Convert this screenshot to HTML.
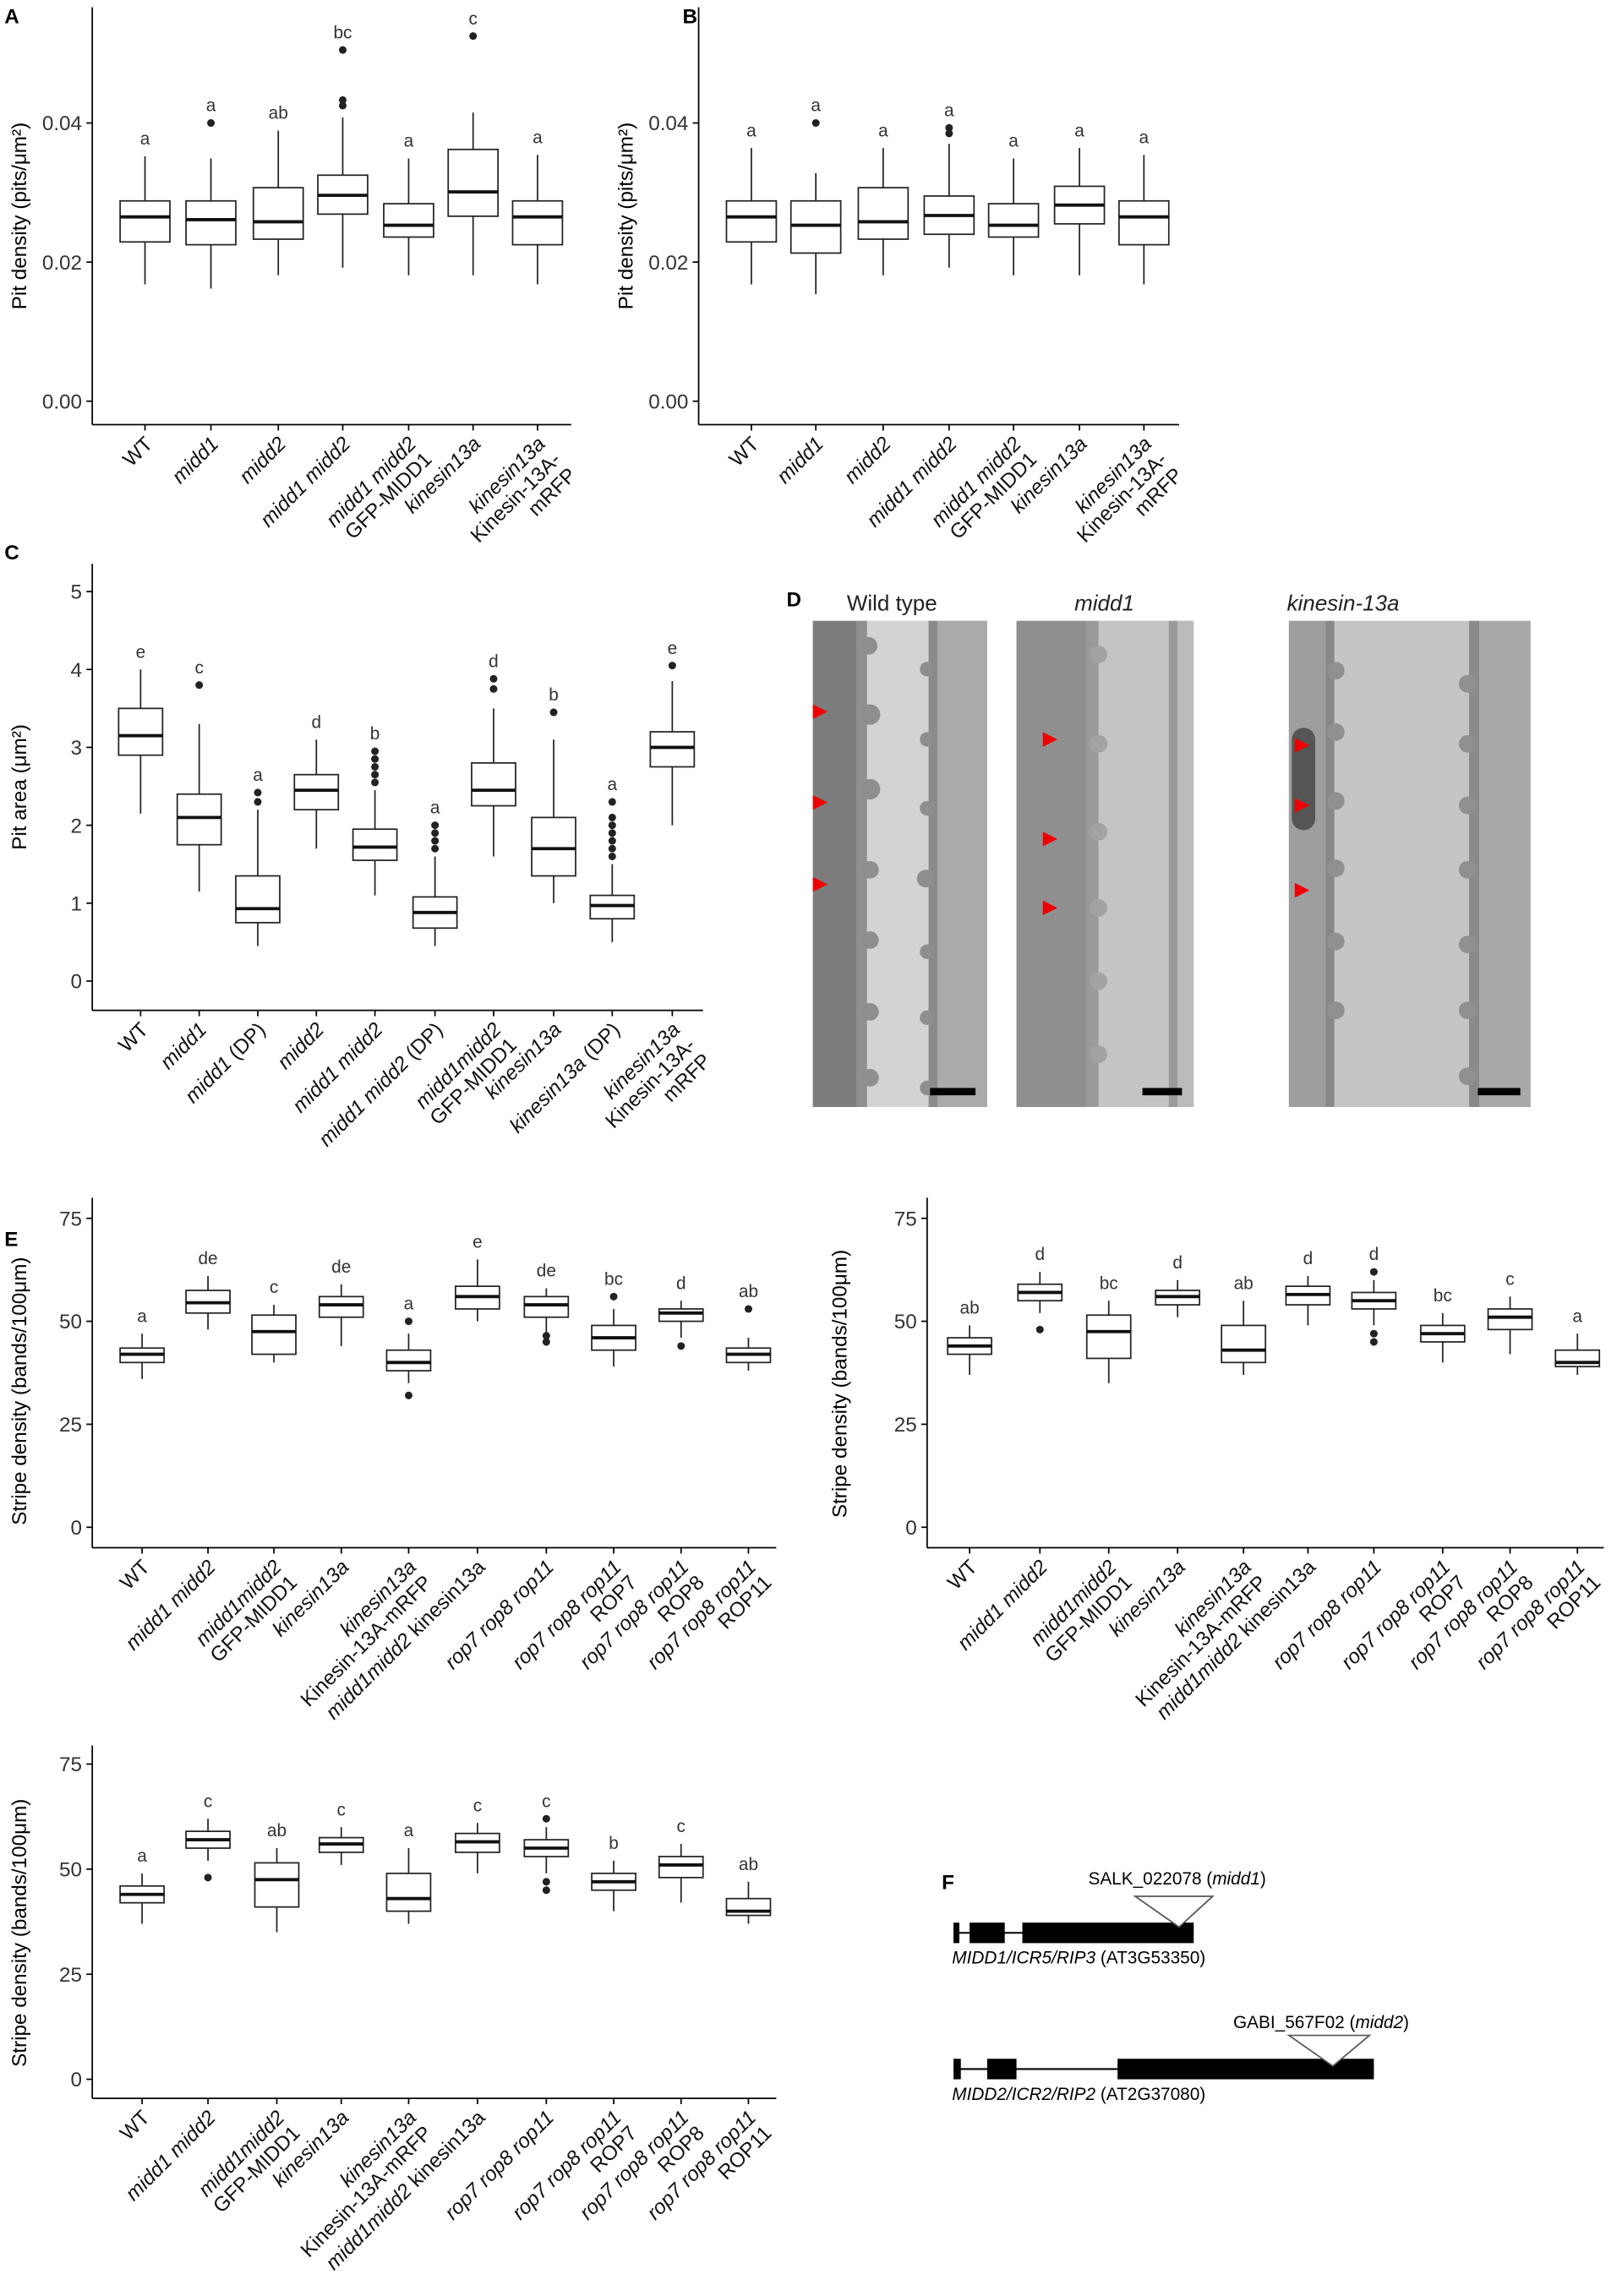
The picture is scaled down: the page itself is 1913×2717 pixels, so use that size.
<!DOCTYPE html>
<html><head><meta charset="utf-8"><style>
html,body{margin:0;padding:0;background:#fff;}
svg{display:block;font-family:"Liberation Sans",sans-serif;}
</style></head><body>
<svg id="s" width="1913" height="2717" viewBox="0 0 1104 1568" xmlns="http://www.w3.org/2000/svg">
<rect width="1104" height="1568" fill="#fff"/>
<g font-weight="bold" font-size="14">
<text x="3" y="16">A</text><text x="466" y="16">B</text><text x="3" y="382">C</text>
<text x="537" y="414">D</text><text x="3" y="851">E</text><text x="643" y="1290">F</text>
</g>
<!-- Panel D -->
<g font-size="15" fill="#222">
<text x="609" y="417" text-anchor="middle">Wild type</text>
<text x="754" y="417" text-anchor="middle" font-style="italic">midd1</text>
<text x="917" y="417" text-anchor="middle" font-style="italic">kinesin-13a</text>
</g>
<g>
<rect x="555" y="424" width="119" height="332" fill="#c9c9c9"/>
<rect x="555" y="424" width="30" height="332" fill="#7c7c7c"/>
<rect x="585" y="424" width="7" height="332" fill="#8f8f8f"/>
<rect x="592" y="424" width="42" height="332" fill="#d3d3d3"/>
<rect x="634" y="424" width="6" height="332" fill="#8a8a8a"/>
<rect x="640" y="424" width="34" height="332" fill="#aaaaaa"/>
<g fill="#8e8e8e"><circle cx="593" cy="441" r="6"/><circle cx="594" cy="488" r="7"/><circle cx="594" cy="539" r="7"/><circle cx="594" cy="594" r="6"/><circle cx="594" cy="642" r="6"/><circle cx="594" cy="691" r="6"/><circle cx="594" cy="736" r="6"/>
<circle cx="633" cy="457" r="5"/><circle cx="633" cy="505" r="5"/><circle cx="633" cy="552" r="5"/><circle cx="632" cy="600" r="6"/><circle cx="633" cy="650" r="5"/><circle cx="633" cy="695" r="5"/><circle cx="633" cy="743" r="5"/></g>
<rect x="635" y="743" width="31" height="5" fill="#000"/>
<g fill="#e00"><polygon points="555,481 565,486 555,491"/><polygon points="555,543 565,548 555,553"/><polygon points="555,599 565,604 555,609"/></g>

<rect x="694" y="424" width="121" height="332" fill="#bdbdbd"/>
<rect x="694" y="424" width="48" height="332" fill="#8f8f8f"/>
<rect x="742" y="424" width="8" height="332" fill="#9a9a9a"/>
<rect x="750" y="424" width="50" height="332" fill="#c4c4c4"/>
<rect x="798" y="424" width="6" height="332" fill="#9a9a9a"/>
<rect x="804" y="424" width="11" height="332" fill="#bbbbbb"/>
<g fill="#a3a3a3"><circle cx="750" cy="447" r="6"/><circle cx="750" cy="508" r="6"/><circle cx="750" cy="568" r="6"/><circle cx="750" cy="620" r="6"/><circle cx="750" cy="670" r="6"/><circle cx="750" cy="720" r="6"/></g>
<rect x="780" y="743" width="27" height="5" fill="#000"/>
<g fill="#e00"><polygon points="712,500 722,505 712,510"/><polygon points="712,568 722,573 712,578"/><polygon points="712,615 722,620 712,625"/></g>

<rect x="880" y="424" width="165" height="332" fill="#c5c5c5"/>
<rect x="880" y="424" width="25" height="332" fill="#9e9e9e"/>
<rect x="882" y="497" width="16" height="70" rx="8" fill="#555"/>
<rect x="905" y="424" width="6" height="332" fill="#888"/>
<rect x="1003" y="424" width="7" height="332" fill="#8a8a8a"/>
<rect x="1010" y="424" width="35" height="332" fill="#a8a8a8"/>
<g fill="#909090"><circle cx="912" cy="458" r="6"/><circle cx="912" cy="500" r="6"/><circle cx="912" cy="547" r="6"/><circle cx="912" cy="593" r="6"/><circle cx="912" cy="643" r="6"/><circle cx="912" cy="690" r="6"/>
<circle cx="1002" cy="467" r="6"/><circle cx="1002" cy="508" r="6"/><circle cx="1002" cy="550" r="6"/><circle cx="1002" cy="594" r="6"/><circle cx="1002" cy="645" r="6"/><circle cx="1002" cy="690" r="6"/><circle cx="1002" cy="735" r="6"/></g>
<rect x="1009" y="743" width="29" height="5" fill="#000"/>
<g fill="#e00"><polygon points="884,504 894,509 884,514"/><polygon points="884,545 894,550 884,555"/><polygon points="884,603 894,608 884,613"/></g>
</g>
<!-- Panel F -->
<g>
<text x="743" y="1287" font-size="12">SALK_022078 (<tspan font-style="italic">midd1</tspan>)</text>
<line x1="652" y1="1320" x2="815" y2="1320" stroke="#000" stroke-width="1.2"/>
<rect x="651" y="1313" width="4" height="14"/><rect x="662" y="1313" width="24" height="14"/><rect x="698" y="1313" width="117" height="14"/>
<polygon points="775,1295 828,1295 805,1316" fill="#fff" stroke="#555" stroke-width="1"/>
<text x="650" y="1341" font-size="12" font-style="italic">MIDD1/ICR5/RIP3 <tspan font-style="normal">(AT3G53350)</tspan></text>
<text x="842" y="1385" font-size="12">GABI_567F02 (<tspan font-style="italic">midd2</tspan>)</text>
<line x1="652" y1="1413" x2="938" y2="1413" stroke="#000" stroke-width="1.2"/>
<rect x="651" y="1406" width="5" height="14"/><rect x="674" y="1406" width="20" height="14"/><rect x="763" y="1406" width="175" height="14"/>
<polygon points="880,1390 935,1390 910,1411" fill="#fff" stroke="#555" stroke-width="1"/>
<text x="650" y="1434" font-size="12" font-style="italic">MIDD2/ICR2/RIP2 <tspan font-style="normal">(AT2G37080)</tspan></text>
</g>
<g id="charts"></g>
</svg>
<script>
var g=document.getElementById('charts'),h='';
function it(t){return '<tspan font-style="italic">'+t+'</tspan>';}
function chart(o){
  var Y=function(v){return o.y0-(v-o.v0)*o.k;};
  h+='<line x1="'+o.ax+'" y1="'+o.top+'" x2="'+o.ax+'" y2="'+o.bot+'" stroke="#000" stroke-width="1"/>';
  h+='<line x1="'+o.ax+'" y1="'+o.bot+'" x2="'+o.right+'" y2="'+o.bot+'" stroke="#000" stroke-width="1"/>';
  o.ticks.forEach(function(t){var y=Y(t[0]);h+='<line x1="'+(o.ax-4)+'" y1="'+y+'" x2="'+o.ax+'" y2="'+y+'" stroke="#000"/><text x="'+(o.ax-7)+'" y="'+(y+5)+'" font-size="14" text-anchor="end" fill="#333">'+t[1]+'</text>';});
  var cy=(o.tc!==undefined)?o.tc:(o.top+o.bot)/2;
  h+='<text transform="translate('+o.tx+','+cy+') rotate(-90)" font-size="14" text-anchor="middle">'+o.title+'</text>';
  o.boxes.forEach(function(b,i){
    var x=o.xs[i],w=o.bw/2;
    h+='<line x1="'+x+'" y1="'+Y(b[0])+'" x2="'+x+'" y2="'+Y(b[4])+'" stroke="#222"/>';
    h+='<rect x="'+(x-w)+'" y="'+Y(b[3])+'" width="'+o.bw+'" height="'+(Y(b[1])-Y(b[3]))+'" fill="#fff" stroke="#222"/>';
    h+='<line x1="'+(x-w)+'" y1="'+Y(b[2])+'" x2="'+(x+w)+'" y2="'+Y(b[2])+'" stroke="#111" stroke-width="2.2"/>';
    var mx=b[4];(b[5]||[]).forEach(function(v){if(v>mx)mx=v;h+='<circle cx="'+x+'" cy="'+Y(v)+'" r="2.6" fill="#222"/>';});
    h+='<text x="'+x+'" y="'+(Y(mx)-8)+'" font-size="12" text-anchor="middle" fill="#333">'+b[6]+'</text>';
    h+='<line x1="'+x+'" y1="'+o.bot+'" x2="'+x+'" y2="'+(o.bot+4)+'" stroke="#000"/>';
    var L=o.labels[i];
    h+='<g transform="translate('+(x+6)+','+(o.bot+14)+') rotate(-45)" font-size="14" text-anchor="end" fill="#111">';
    L.forEach(function(s,j){h+='<text x="0" y="'+(j*15)+'">'+s+'</text>';});
    h+='</g>';
  });
}
var labAB=[['WT'],[it('midd1')],[it('midd2')],[it('midd1 midd2')],[it('midd1 midd2'),'GFP-MIDD1'],[it('kinesin13a')],[it('kinesin13a'),'Kinesin-13A-','mRFP']];
var tAB=[[0,'0.00'],[0.02,'0.02'],[0.04,'0.04']];
chart({ax:63,top:5,bot:290,right:390,y0:274,v0:0,k:4750,tx:18,title:'Pit density (pits/μm²)',ticks:tAB,bw:34,
 xs:[99,144,190,234,279,323,367],labels:labAB,boxes:[
 [0.0168,0.0229,0.0265,0.0288,0.0352,[],'a'],[0.0162,0.0225,0.0261,0.0288,0.0349,[0.0400],'a'],[0.0181,0.0233,0.0258,0.0307,0.0389,[],'ab'],
 [0.0192,0.0269,0.0296,0.0325,0.0408,[0.0425,0.0433,0.0505],'bc'],[0.0181,0.0236,0.0253,0.0284,0.0349,[],'a'],[0.0181,0.0266,0.0301,0.0362,0.0415,[0.0525],'c'],[0.0168,0.0225,0.0265,0.0288,0.0354,[],'a']]});
chart({ax:477,top:5,bot:290,right:805,y0:274,v0:0,k:4750,tx:432,title:'Pit density (pits/μm²)',ticks:tAB,bw:34,
 xs:[513,557,603,648,692,737,781],labels:labAB,boxes:[
 [0.0168,0.0229,0.0265,0.0288,0.0364,[],'a'],[0.0154,0.0213,0.0253,0.0288,0.0328,[0.0400],'a'],[0.0181,0.0233,0.0258,0.0307,0.0364,[],'a'],
 [0.0192,0.0240,0.0267,0.0295,0.0370,[0.0385,0.0393],'a'],[0.0181,0.0236,0.0253,0.0284,0.0349,[],'a'],[0.0181,0.0255,0.0282,0.0309,0.0364,[],'a'],[0.0168,0.0225,0.0265,0.0288,0.0354,[],'a']]});
chart({ax:63,top:385,bot:690,right:480,y0:670,v0:0,k:53.2,tx:18,title:'Pit area (μm²)',ticks:[[0,'0'],[1,'1'],[2,'2'],[3,'3'],[4,'4'],[5,'5']],bw:30,
 xs:[96,136,176,216,256,297,337,378,418,459],
 labels:[['WT'],[it('midd1')],[it('midd1')+' (DP)'],[it('midd2')],[it('midd1 midd2')],[it('midd1 midd2')+' (DP)'],[it('midd1midd2'),'GFP-MIDD1'],[it('kinesin13a')],[it('kinesin13a')+' (DP)'],[it('kinesin13a'),'Kinesin-13A-','mRFP']],
 boxes:[[2.15,2.9,3.15,3.5,4.0,[],'e'],[1.15,1.75,2.1,2.4,3.3,[3.8],'c'],[0.45,0.75,0.93,1.35,2.2,[2.3,2.42],'a'],[1.7,2.2,2.45,2.65,3.1,[],'d'],
 [1.1,1.55,1.72,1.95,2.45,[2.55,2.65,2.75,2.85,2.95],'b'],[0.45,0.68,0.88,1.08,1.6,[1.7,1.8,1.9,2.0],'a'],[1.6,2.25,2.45,2.8,3.5,[3.75,3.88],'d'],
 [1.0,1.35,1.7,2.1,3.1,[3.45],'b'],[0.5,0.8,0.97,1.1,1.5,[1.6,1.7,1.8,1.9,2.0,2.1,2.3],'a'],[2.0,2.75,3.0,3.2,3.85,[4.05],'e']]});
var labE=[['WT'],[it('midd1 midd2')],[it('midd1midd2'),'GFP-MIDD1'],[it('kinesin13a')],[it('kinesin13a'),'Kinesin-13A-mRFP'],[it('midd1midd2')+' kinesin13a'],[it('rop7 rop8 rop11')],[it('rop7 rop8 rop11'),'ROP7'],[it('rop7 rop8 rop11'),'ROP8'],[it('rop7 rop8 rop11'),'ROP11']];
var tE=[[0,'0'],[25,'25'],[50,'50'],[75,'75']];
var dE2=[[37,42,44,46,49,[],'ab'],[52,55,57,59,62,[48],'d'],[35,41,47.5,51.5,55,[],'bc'],[51,54,56,57.5,60,[],'d'],[37,40,43,49,55,[],'ab'],
 [49,54,56.5,58.5,61,[],'d'],[49,53,55,57,60,[45,47,62],'d'],[40,45,47,49,52,[],'bc'],[42,48,51,53,56,[],'c'],[37,39,40,43,47,[],'a']];
chart({ax:63,top:818,bot:1057,right:530,y0:1043,v0:0,k:2.813,tx:18,tc:950,title:'Stripe density (bands/100μm)',ticks:tE,bw:30,
 xs:[97,142,187,233,279,326,373,419,465,511],labels:labE,boxes:[
 [36,40,42,43.5,47,[],'a'],[48,52,54.5,57.5,61,[],'de'],[40,42,47.5,51.5,54,[],'c'],[44,51,54,56,59,[],'de'],[35,38,40,43,47,[32,50],'a'],
 [50,53,56,58.5,65,[],'e'],[47,51,54,56,58,[45,46.5],'de'],[39,43,46,49,53,[56],'bc'],[46,50,52,53,55,[44],'d'],[38,40,42,43.5,46,[53],'ab']]});
chart({ax:633,top:818,bot:1057,right:1095,y0:1043,v0:0,k:2.813,tx:578,tc:945,title:'Stripe density (bands/100μm)',ticks:tE,bw:30,
 xs:[662,710,757,804,849,893,938,985,1031,1077],labels:labE,boxes:dE2});
var dE3=JSON.parse(JSON.stringify(dE2));['a','c','ab','c','a','c','c','b','c','ab'].forEach(function(l,i){dE3[i][6]=l;});
chart({ax:63,top:1192,bot:1433,right:530,y0:1420,v0:0,k:2.87,tx:18,tc:1320,title:'Stripe density (bands/100μm)',ticks:tE,bw:30,
 xs:[97,142,189,233,279,326,373,419,465,511],labels:labE,boxes:dE3});
g.innerHTML=h;
</script>
</body></html>
